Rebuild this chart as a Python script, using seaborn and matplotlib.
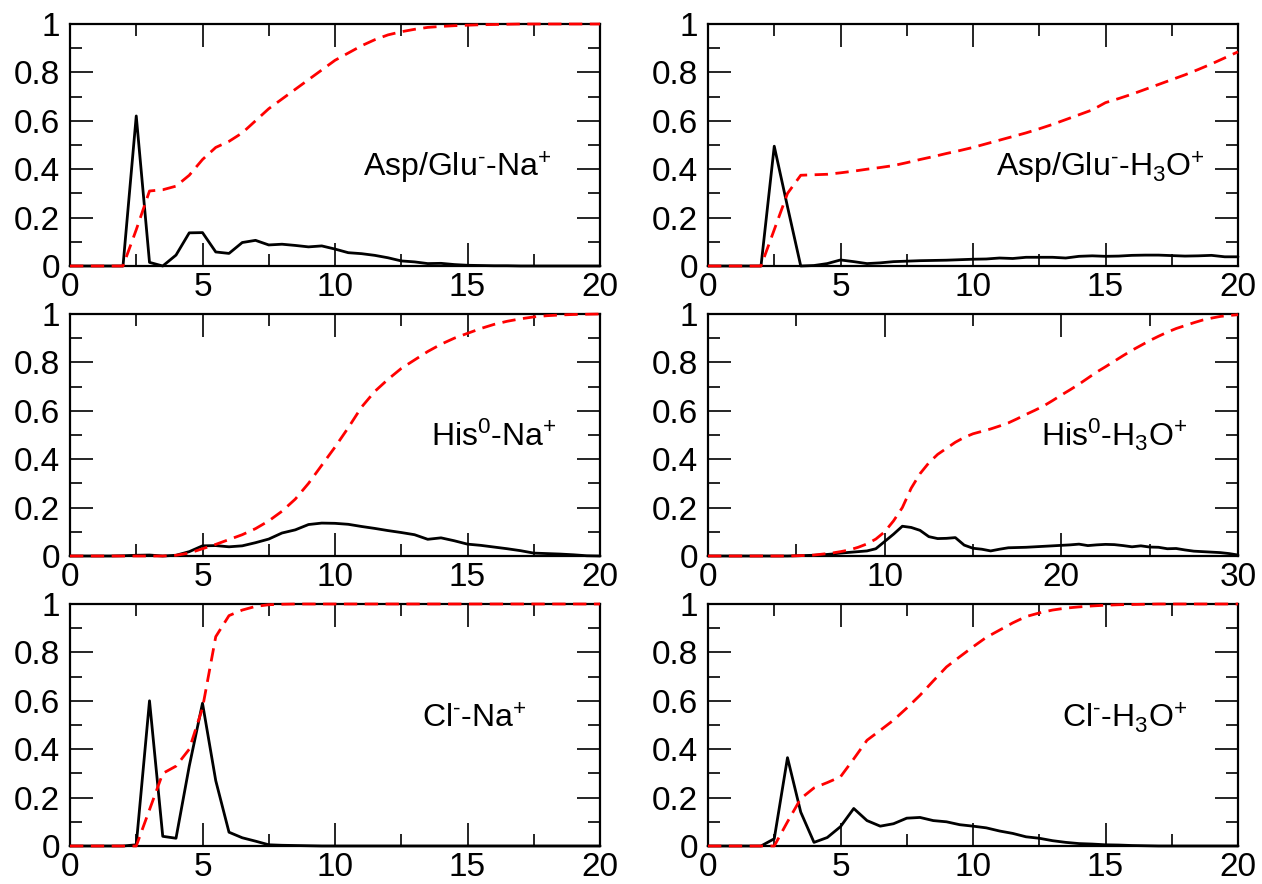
import numpy as np
import pandas as pd
import matplotlib
matplotlib.use("Agg")
import matplotlib.pyplot as plt
import seaborn as sns
from matplotlib.ticker import MultipleLocator, FuncFormatter

sns.set_theme(style="white")
plt.rcParams['font.family'] = ['Liberation Sans', 'DejaVu Sans']
plt.rcParams['mathtext.fontset'] = 'custom'
plt.rcParams['mathtext.rm'] = 'Liberation Sans'
plt.rcParams['mathtext.it'] = 'Liberation Sans'
plt.rcParams['mathtext.bf'] = 'Liberation Sans'
plt.rcParams['text.color'] = 'black'

# ---------------- data ----------------
x20 = [i * 0.5 for i in range(41)]          # 0 .. 20 step 0.5
x30 = [i * 0.5 for i in range(61)]          # 0 .. 30 step 0.5

# Asp/Glu- - Na+
asp_na_black = [0, 0, 0, 0, 0, 0.62, 0.015, 0.0, 0.045, 0.137, 0.138, 0.058, 0.052, 0.097, 0.106,
                0.087, 0.09, 0.085, 0.079, 0.083, 0.07, 0.055, 0.051, 0.044, 0.034, 0.021, 0.017,
                0.01, 0.011, 0.006, 0.003, 0.002, 0.001, 0.001, 0, 0, 0, 0, 0, 0, 0]
asp_na_red = [0, 0, 0, 0, 0, 0.15, 0.31, 0.315, 0.33, 0.375, 0.44, 0.49, 0.515, 0.55, 0.60,
              0.65, 0.69, 0.73, 0.77, 0.81, 0.85, 0.88, 0.91, 0.935, 0.955, 0.968, 0.978,
              0.986, 0.99, 0.993, 0.995, 0.997, 0.998, 0.999, 1, 1, 1, 1, 1, 1, 1]

# Asp/Glu- - H3O+
asp_h3o_black = [0, 0, 0, 0, 0, 0.495, 0.245, 0.0, 0.002, 0.01, 0.025, 0.018, 0.01, 0.013, 0.018,
                 0.02, 0.022, 0.023, 0.024, 0.026, 0.028, 0.029, 0.033, 0.031, 0.036, 0.036, 0.036,
                 0.033, 0.04, 0.042, 0.04, 0.041, 0.044, 0.045, 0.045, 0.043, 0.041, 0.042, 0.044,
                 0.038, 0.038]
asp_h3o_red = [0, 0, 0, 0, 0, 0.15, 0.3, 0.375, 0.377, 0.379, 0.385, 0.392, 0.4, 0.407, 0.415,
               0.427, 0.44, 0.452, 0.465, 0.477, 0.49, 0.505, 0.52, 0.535, 0.55, 0.567, 0.585,
               0.605, 0.625, 0.645, 0.675, 0.692, 0.71, 0.73, 0.75, 0.77, 0.79, 0.812, 0.835,
               0.86, 0.885]

# His0 - Na+
his_na_black = [0, 0, 0, 0, 0.001, 0.003, 0.004, 0.0, 0.003, 0.018, 0.042, 0.043, 0.038, 0.042,
                0.055, 0.07, 0.095, 0.108, 0.13, 0.136, 0.135, 0.131, 0.122, 0.114, 0.105, 0.097,
                0.088, 0.069, 0.075, 0.063, 0.049, 0.044, 0.037, 0.03, 0.022, 0.012, 0.01, 0.008,
                0.005, 0.001, 0.0]
his_na_red = [0, 0, 0, 0, 0, 0, 0, 0, 0.003, 0.012, 0.03, 0.048, 0.068, 0.088, 0.113, 0.145,
              0.185, 0.235, 0.3, 0.375, 0.45, 0.53, 0.615, 0.68, 0.73, 0.775, 0.81, 0.845, 0.875,
              0.9, 0.92, 0.94, 0.957, 0.97, 0.98, 0.988, 0.993, 0.996, 0.998, 0.999, 1.0]

# His0 - H3O+
his_h3o_black = [0, 0, 0, 0, 0, 0, 0, 0, 0, 0, 0.001, 0.002, 0.003, 0.005, 0.008, 0.012, 0.015,
                 0.018, 0.021, 0.03, 0.06, 0.09, 0.123, 0.118, 0.106, 0.08, 0.072, 0.073, 0.076,
                 0.045, 0.032, 0.028, 0.021, 0.028, 0.034, 0.035, 0.036, 0.038, 0.04, 0.042, 0.044,
                 0.046, 0.049, 0.043, 0.046, 0.048, 0.047, 0.043, 0.038, 0.042, 0.037, 0.036, 0.03,
                 0.031, 0.025, 0.02, 0.018, 0.016, 0.014, 0.01, 0.004]
his_h3o_red = [0, 0, 0, 0, 0, 0, 0, 0, 0, 0, 0.001, 0.002, 0.004, 0.008, 0.012, 0.018, 0.025, 0.036,
               0.05, 0.07, 0.1, 0.145, 0.2, 0.28, 0.34, 0.385, 0.42, 0.445, 0.47, 0.49, 0.505,
               0.515, 0.525, 0.537, 0.55, 0.567, 0.585, 0.602, 0.62, 0.642, 0.665, 0.687, 0.71,
               0.735, 0.76, 0.782, 0.805, 0.828, 0.85, 0.87, 0.89, 0.908, 0.925, 0.94, 0.952,
               0.964, 0.975, 0.983, 0.99, 0.994, 0.997]

# Cl- - Na+
cl_na_black = [0, 0, 0, 0, 0, 0.005, 0.6, 0.04, 0.032, 0.33, 0.59, 0.27, 0.057, 0.034, 0.02,
               0.005, 0.003, 0.002, 0.001, 0, 0, 0, 0, 0, 0, 0, 0, 0, 0, 0, 0, 0, 0, 0, 0, 0, 0,
               0, 0, 0, 0]
cl_na_red = [0, 0, 0, 0, 0, 0, 0.15, 0.3, 0.33, 0.4, 0.57, 0.865, 0.952, 0.975, 0.99, 0.997,
             0.999, 1, 1, 1, 1, 1, 1, 1, 1, 1, 1, 1, 1, 1, 1, 1, 1, 1, 1, 1, 1, 1, 1, 1, 1]

# Cl- - H3O+
cl_h3o_black = [0, 0, 0, 0, 0, 0.03, 0.365, 0.14, 0.015, 0.035, 0.08, 0.155, 0.105, 0.082, 0.092,
                0.115, 0.118, 0.105, 0.1, 0.088, 0.082, 0.075, 0.062, 0.052, 0.038, 0.032, 0.022,
                0.015, 0.01, 0.008, 0.005, 0.004, 0.002, 0.001, 0, 0, 0, 0, 0, 0, 0]
cl_h3o_red = [0, 0, 0, 0, 0, 0, 0.1, 0.196, 0.24, 0.262, 0.286, 0.36, 0.437, 0.478, 0.52, 0.57,
              0.623, 0.682, 0.74, 0.782, 0.823, 0.862, 0.892, 0.922, 0.948, 0.963, 0.975, 0.983,
              0.988, 0.992, 0.995, 0.997, 0.998, 0.999, 1, 1, 1, 1, 1, 1, 1]

labels = [r'Asp/Glu$^{\text{-}}$-Na$^{+}$', r'Asp/Glu$^{\text{-}}$-H$_{3}$O$^{+}$',
          r'His$^{0}$-Na$^{+}$', r'His$^{0}$-H$_{3}$O$^{+}$',
          r'Cl$^{\text{-}}$-Na$^{+}$', r'Cl$^{\text{-}}$-H$_{3}$O$^{+}$']

panels = [
    (x20, asp_na_black, asp_na_red, 20, 5),
    (x20, asp_h3o_black, asp_h3o_red, 20, 5),
    (x20, his_na_black, his_na_red, 20, 5),
    (x30, his_h3o_black, his_h3o_red, 30, 10),
    (x20, cl_na_black, cl_na_red, 20, 5),
    (x20, cl_h3o_black, cl_h3o_red, 20, 5),
]
label_pos = [(0.730, 0.369), (0.740, 0.369), (0.800, 0.455),
             (0.767, 0.455), (0.763, 0.488), (0.787, 0.488)]

# ---------------- figure ----------------
W, H = 1262, 884
fig = plt.figure(figsize=(W / 100, H / 100), dpi=100)
lefts = [70, 708]
tops = [24, 314, 604]
aw, ah = 530, 242

def fmt(v, pos):
    if abs(v - round(v)) < 1e-9:
        return '%d' % round(v)
    return ('%.1f' % v)

for i, (xs, yb, yr, xmax, xmaj) in enumerate(panels):
    r, c = divmod(i, 2)
    l = lefts[c] / W
    b = 1 - (tops[r] + ah) / H
    ax = fig.add_axes([l, b, aw / W, ah / H])
    df = pd.DataFrame({'x': xs, 'black': yb, 'red': yr})
    sns.lineplot(data=df, x='x', y='black', ax=ax, color='black', linewidth=2.0,
                 clip_on=False, zorder=3)
    sns.lineplot(data=df, x='x', y='red', ax=ax, color='#ff0000', linewidth=2.0,
                 linestyle=(0, (4.8, 2.7)), clip_on=False, zorder=4)
    ax.set_xlim(0, xmax)
    ax.set_ylim(0, 1)
    ax.set_xlabel('')
    ax.set_ylabel('')
    ax.xaxis.set_major_locator(MultipleLocator(xmaj))
    ax.xaxis.set_minor_locator(MultipleLocator(xmaj / 2))
    ax.yaxis.set_major_locator(MultipleLocator(0.2))
    ax.yaxis.set_minor_locator(MultipleLocator(0.1))
    ax.yaxis.set_major_formatter(FuncFormatter(fmt))
    ax.xaxis.set_major_formatter(FuncFormatter(fmt))
    ax.tick_params(which='both', direction='in', top=True, right=True,
                   bottom=True, left=True, color='black', width=1.2,
                   labelcolor='black')
    ax.tick_params(which='major', length=16.5, labelsize=24)
    ax.tick_params(axis='y', which='major', pad=7)
    ax.tick_params(axis='x', which='major', pad=4)
    ax.tick_params(which='minor', length=8.6)
    for s in ax.spines.values():
        s.set_color('black')
        s.set_linewidth(1.6)
        s.set_visible(True)
    tx, ty = label_pos[i]
    ax.text(tx, ty, labels[i], transform=ax.transAxes, ha='center', va='baseline',
            fontsize=23, color='black')

fig.savefig('out.png', dpi=100)
